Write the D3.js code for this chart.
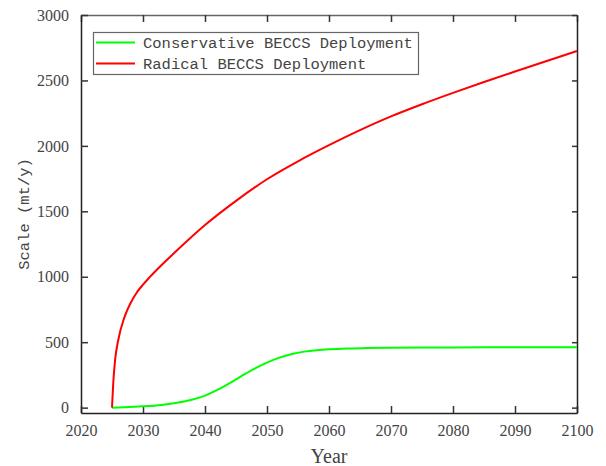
<!DOCTYPE html>
<html>
<head>
<meta charset="utf-8">
<script src="https://cdn.jsdelivr.net/npm/d3@7"></script>
<style>
  body { margin: 0; background: #fff; }
  .tick text { font-family: "Liberation Serif", serif; font-size: 16px; fill: #444; }
</style>
</head>
<body>
<svg id="chart" width="606" height="466"></svg>
<script>
// Data
var years_radical = [2025, 2025.2, 2025.5, 2026, 2027, 2028, 2029, 2030, 2031, 2033, 2035, 2040, 2045, 2050, 2055, 2060, 2065, 2070, 2075, 2080, 2085, 2090, 2095, 2100];
var radical = [0, 186, 365, 515, 690, 800, 880, 940, 993, 1090, 1180, 1395, 1580, 1745, 1882, 2005, 2120, 2225, 2318, 2405, 2488, 2568, 2647, 2725];

var years_conservative = [2025, 2027, 2030, 2033, 2035, 2038, 2040, 2042, 2044, 2046, 2048, 2050, 2052, 2054, 2056, 2058, 2060, 2063, 2066, 2070, 2080, 2090, 2100];
var conservative = [0, 3, 10, 21, 33, 62, 92, 135, 187, 244, 298, 344, 382, 410, 428, 439, 446, 452, 455, 458, 460, 461, 461];

var x_ticks = [2020, 2030, 2040, 2050, 2060, 2070, 2080, 2090, 2100];
var y_ticks = [0, 500, 1000, 1500, 2000, 2500, 3000];

var series = [
    { name: "Conservative BECCS Deployment", colour: "#00ff00", years: years_conservative, values: conservative },
    { name: "Radical BECCS Deployment", colour: "#ff0000", years: years_radical, values: radical }
];

// Plot box
var plotLeft = 81, plotRight = 577, plotTop = 15, plotBottom = 413;

var svg = d3.select("#chart");

var x = d3.scaleLinear()
    .domain([2020, 2100])
    .range([plotLeft, plotRight]);

var y = d3.scaleLinear()
    .domain([-41, 3000])
    .range([plotBottom, plotTop]);

// Axes, ticks pointing inward
svg.append("g")
    .attr("transform", "translate(0," + plotBottom + ")")
    .call(d3.axisBottom(x).tickValues(x_ticks).tickFormat(d3.format("d")).tickSizeInner(-7).tickSizeOuter(0).tickPadding(12));

svg.append("g")
    .attr("class", "top-axis")
    .attr("transform", "translate(0," + plotTop + ")")
    .call(d3.axisTop(x).tickValues(x_ticks).tickFormat("").tickSizeInner(-7).tickSizeOuter(0));

svg.append("g")
    .attr("transform", "translate(" + plotLeft + ",0)")
    .call(d3.axisLeft(y).tickValues(y_ticks).tickFormat(d3.format("d")).tickSizeInner(-7).tickSizeOuter(0).tickPadding(12));

svg.append("g")
    .attr("transform", "translate(" + plotRight + ",0)")
    .call(d3.axisRight(y).tickValues(y_ticks).tickFormat("").tickSizeInner(-5).tickSizeOuter(0));

svg.selectAll(".domain").attr("stroke", "#222").attr("stroke-width", 1.5);
svg.selectAll(".tick line").attr("stroke", "#333").attr("stroke-width", 1.5);
svg.select(".top-axis .domain").attr("stroke", "#666");

// Lines
var line = d3.line()
    .x(function(d) { return x(d[0]); })
    .y(function(d) { return y(d[1]); })
    .curve(d3.curveMonotoneX);

series.forEach(function(s) {
    svg.append("path")
        .datum(d3.zip(s.years, s.values))
        .attr("fill", "none")
        .attr("stroke", s.colour)
        .attr("stroke-width", 2)
        .attr("d", line);
});

// Legend
var legend = svg.append("g");
legend.append("rect")
    .attr("x", 93.5).attr("y", 32.5)
    .attr("width", 325).attr("height", 42)
    .attr("fill", "#fff")
    .attr("stroke", "#666")
    .attr("stroke-width", 1.2);

series.forEach(function(s, i) {
    var ly = 42.5 + i * 21;
    legend.append("line")
        .attr("x1", 96).attr("x2", 135)
        .attr("y1", ly).attr("y2", ly)
        .attr("stroke", s.colour).attr("stroke-width", 2);
    legend.append("text")
        .attr("x", 143).attr("y", ly + 5)
        .style("font-family", "'Liberation Mono', monospace")
        .style("font-size", "15.5px")
        .attr("fill", "#444")
        .text(s.name);
});

// Axis titles
svg.append("text")
    .attr("x", (plotLeft + plotRight) / 2).attr("y", 463)
    .attr("text-anchor", "middle")
    .style("font-family", "'Liberation Serif', serif")
    .style("font-size", "20px")
    .attr("fill", "#444")
    .text("Year");

svg.append("text")
    .attr("transform", "translate(29," + (plotTop + plotBottom) / 2 + ")rotate(-90)")
    .attr("text-anchor", "middle")
    .style("font-family", "'Liberation Mono', monospace")
    .style("font-size", "15.5px")
    .attr("fill", "#444")
    .text("Scale (mt/y)");
</script>
</body>
</html>
